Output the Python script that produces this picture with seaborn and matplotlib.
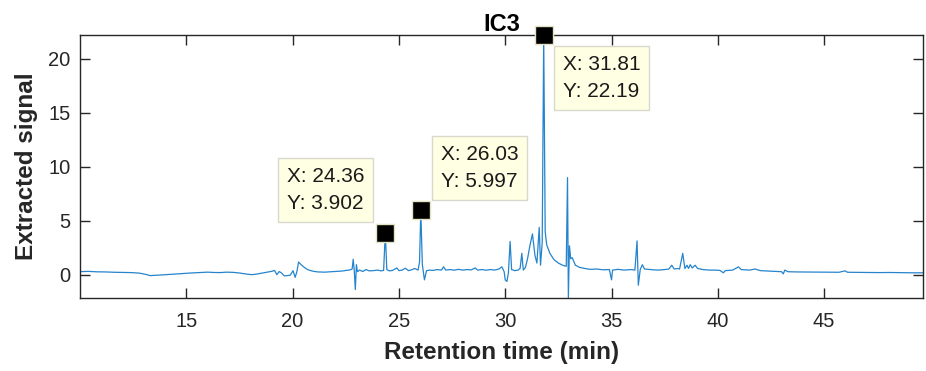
import matplotlib
matplotlib.use("Agg")
import matplotlib.pyplot as plt
import seaborn as sns
import pandas as pd

# Chromatogram trace: retention time (min) and extracted signal
retention_time = [
    10.0, 10.4, 10.8, 11.2, 11.6, 12.0, 12.4, 12.8, 13.1, 13.3,
    13.6, 13.9, 14.2, 14.5, 14.9, 15.2, 15.6, 16.0, 16.3, 16.6,
    16.9, 17.2, 17.5, 17.7, 17.9, 18.1, 18.3, 18.5, 18.8, 19.03,
    19.15, 19.26, 19.37, 19.5, 19.61, 19.75, 19.89, 20.02, 20.12, 20.2,
    20.28, 20.4, 20.55, 20.7, 20.85, 21.0, 21.2, 21.5, 21.8, 22.0,
    22.3, 22.5, 22.7, 22.8, 22.85, 22.9, 22.95, 23.0, 23.05, 23.15,
    23.3, 23.45, 23.6, 23.8, 24.0, 24.15, 24.28, 24.36, 24.43, 24.55,
    24.7, 24.9, 25.0, 25.15, 25.3, 25.45, 25.6, 25.75, 25.9, 25.97,
    26.03, 26.1, 26.2, 26.3, 26.45, 26.6, 26.8, 27.0, 27.1, 27.2,
    27.4, 27.6, 27.8, 28.0, 28.2, 28.4, 28.59, 28.7, 28.9, 29.1,
    29.3, 29.5, 29.7, 29.84, 29.95, 30.0, 30.08, 30.15, 30.23, 30.3,
    30.45, 30.6, 30.7, 30.78, 30.85, 30.95, 31.05, 31.15, 31.28, 31.4,
    31.49, 31.6, 31.66, 31.74, 31.81, 31.88, 31.95, 32.1, 32.3, 32.5,
    32.7, 32.87, 32.93, 32.97, 33.02, 33.08, 33.15, 33.3, 33.5, 33.8,
    34.0, 34.3, 34.6, 34.9, 35.0, 35.05, 35.3, 35.6, 35.9, 36.1,
    36.2, 36.26, 36.35, 36.45, 36.55, 36.8, 37.0, 37.2, 37.5, 37.7,
    37.83, 37.95, 38.1, 38.2, 38.35, 38.45, 38.55, 38.62, 38.7, 38.8,
    38.93, 39.05, 39.3, 39.6, 39.9, 40.1, 40.26, 40.35, 40.7, 40.97,
    41.1, 41.5, 41.75, 42.0, 42.5, 43.0, 43.08, 43.15, 43.3, 43.7,
    44.2, 44.7, 45.2, 45.7, 45.98, 46.1, 46.6, 47.1, 47.6, 48.1,
    48.6, 49.1, 49.65,
]
extracted_signal = [
    0.31, 0.33, 0.29, 0.28, 0.25, 0.24, 0.22, 0.17, 0.05, -0.06,
    -0.03, 0.01, 0.05, 0.08, 0.14, 0.18, 0.22, 0.26, 0.23, 0.22,
    0.26, 0.24, 0.18, 0.12, 0.06, 0.03, 0.08, 0.15, 0.25, 0.34,
    0.42, 0.03, 0.32, 0.15, -0.09, -0.06, -0.02, 0.40, -0.22, 0.30,
    1.20, 0.95, 0.70, 0.50, 0.40, 0.33, 0.28, 0.26, 0.30, 0.32,
    0.36, 0.42, 0.47, 0.55, 1.45, 0.40, -1.35, 0.95, 0.30, 0.45,
    0.32, 0.50, 0.38, 0.40, 0.45, 0.38, 0.42, 3.902, 0.50, 0.38,
    0.42, 0.65, 0.40, 0.45, 0.62, 0.40, 0.48, 0.60, 0.45, 1.20,
    5.997, 1.00, -0.45, 0.40, 0.45, 0.42, 0.50, 0.45, 0.75, 0.45,
    0.50, 0.44, 0.52, 0.45, 0.50, 0.47, 0.65, 0.45, 0.50, 0.44,
    0.50, 0.45, 0.55, 0.75, 0.30, -0.45, -0.60, 0.20, 3.10, 0.50,
    0.40, 0.45, 0.60, 2.00, 0.45, 0.70, 1.50, 2.60, 3.80, 1.80,
    1.10, 4.40, 0.90, 3.00, 22.19, 4.00, 2.80, 2.00, 1.40, 1.10,
    0.90, 0.80, 9.00, -2.13, 2.70, 1.50, 1.60, 0.90, 0.70, 0.58,
    0.52, 0.55, 0.48, 0.50, -0.45, 0.45, 0.52, 0.45, 0.50, 0.45,
    3.15, -0.95, 0.50, 0.95, 0.55, 0.50, 0.47, 0.45, 0.50, 0.55,
    0.90, 0.55, 0.60, 0.55, 2.00, 0.60, 0.90, 0.60, 0.95, 0.65,
    0.90, 0.60, 0.50, 0.45, 0.45, 0.42, 0.20, 0.40, 0.45, 0.75,
    0.50, 0.45, 0.55, 0.40, 0.35, 0.30, 0.10, 0.45, 0.30, 0.28,
    0.27, 0.25, 0.26, 0.25, 0.38, 0.25, 0.24, 0.23, 0.22, 0.23,
    0.21, 0.20, 0.20,
]

# Data tips marking the selected peaks
tip_x = [24.36, 26.03, 31.81]
tip_y = [3.902, 5.997, 22.19]
# Box offsets from each tip point (pixels) and box anchoring
tip_offset = [(-21, 20), (20, 19), (19, -20)]
tip_align = [("right", "bottom"), ("left", "bottom"), ("left", "top")]

x_ticks = [15, 20, 25, 30, 35, 40, 45]
y_ticks = [0, 5, 10, 15, 20]

sns.set_style("ticks")
plt.rcParams["font.family"] = ["Liberation Sans", "DejaVu Sans"]

dark = "#262626"
fig = plt.figure(figsize=(9.26, 3.71), dpi=100)
ax = fig.add_axes([80 / 926, 1 - 298 / 371, 843 / 926, 263 / 371])

trace = pd.DataFrame({"t": retention_time, "s": extracted_signal})
sns.lineplot(data=trace, x="t", y="s", ax=ax, color="#2584cc", lw=0.9,
             estimator=None, sort=False)

tips = pd.DataFrame({"x": tip_x, "y": tip_y})
sns.scatterplot(data=tips, x="x", y="y", ax=ax, marker="s", s=150,
                color="black", edgecolor="#e4e4c4", linewidth=1.0,
                zorder=5, clip_on=False)

for x, y, off, (ha, va) in zip(tip_x, tip_y, tip_offset, tip_align):
    ax.annotate(f"X: {x:.4g}\nY: {y:.4g}", xy=(x, y), xytext=off,
                textcoords="offset pixels", ha=ha, va=va,
                multialignment="left", fontsize=15, color="#1a1a1a",
                linespacing=1.55, zorder=6,
                bbox=dict(boxstyle="square,pad=0.42", fc="#ffffe3",
                          ec="#d8d8cc", lw=1.0))

ax.set_xlim(10.0, 49.65)
ax.set_ylim(-2.13, 22.19)
ax.set_xticks(x_ticks)
ax.set_yticks(y_ticks)

for side in ["top", "right", "bottom", "left"]:
    ax.spines[side].set_visible(True)
    ax.spines[side].set_color(dark)
    ax.spines[side].set_linewidth(1.0)

ax.tick_params(axis="both", direction="in", length=7, width=1.0,
               color=dark, labelcolor=dark, labelsize=14.5,
               top=True, right=True)
ax.tick_params(axis="x", pad=10)
ax.tick_params(axis="y", pad=7)

ax.set_xlabel("Retention time (min)", fontsize=17.5, fontweight="bold",
              color=dark, labelpad=7)
ax.set_ylabel("Extracted signal", fontsize=17.5, fontweight="bold",
              color=dark, labelpad=7)
ax.set_title("IC3", fontsize=17, fontweight="bold", color="black", pad=3)

fig.savefig("out.png", dpi=100)
